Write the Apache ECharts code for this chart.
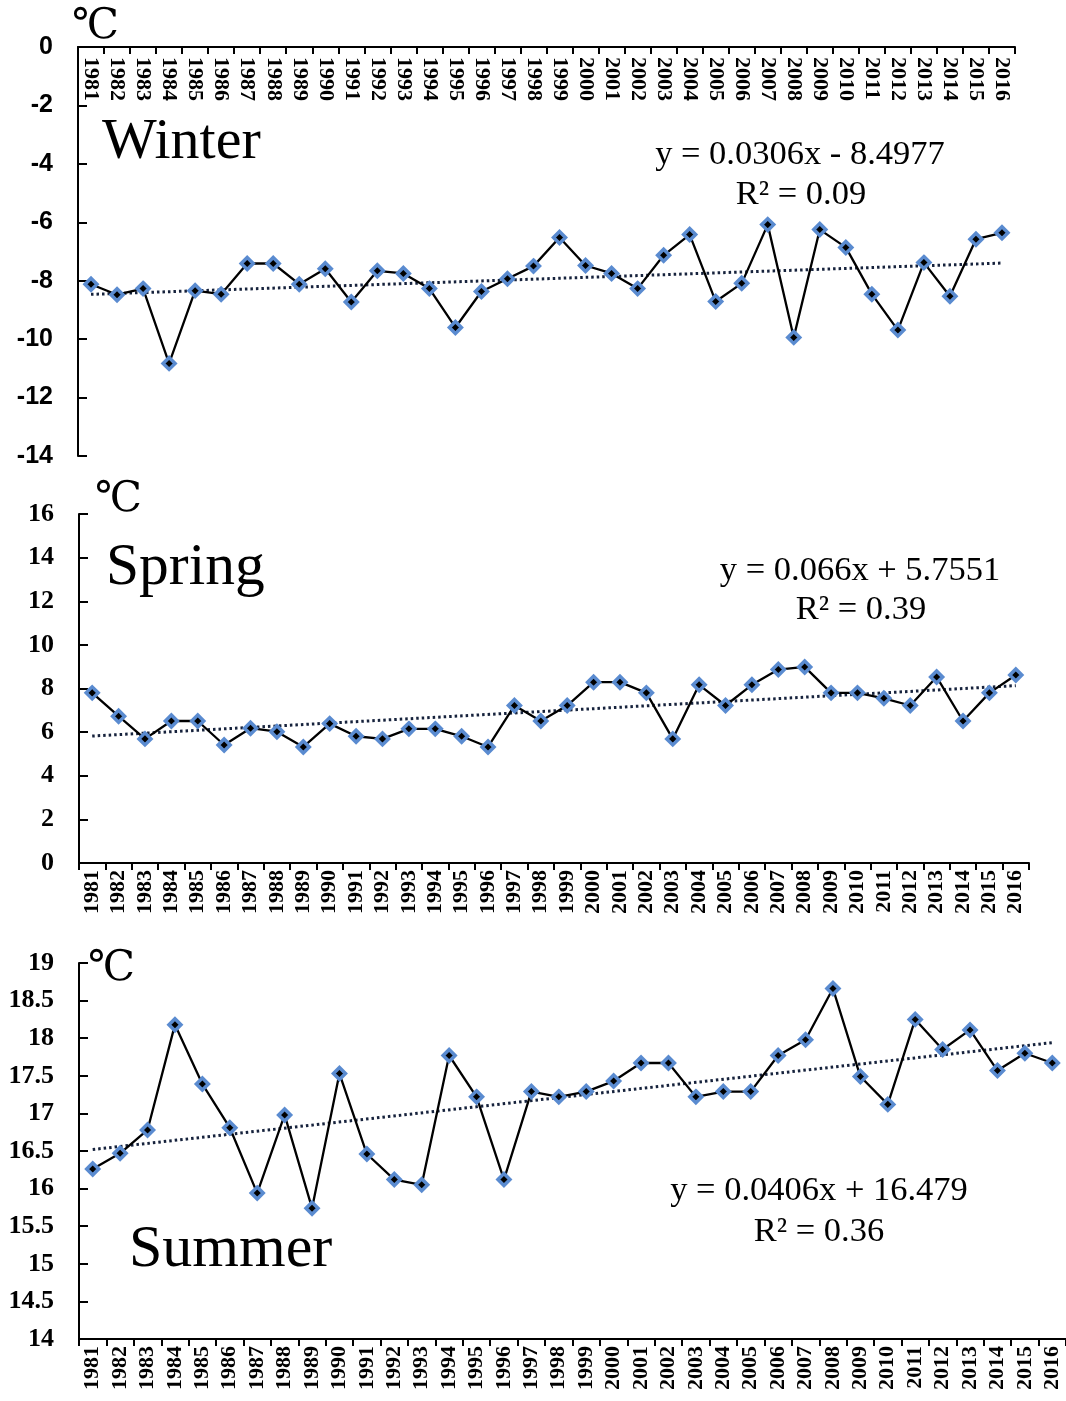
<!DOCTYPE html>
<html><head><meta charset="utf-8">
<script src="https://cdn.jsdelivr.net/npm/echarts@6/dist/echarts.min.js"></script>
<style>html,body{margin:0;padding:0;background:#fff}#c{width:1066px;height:1401px}</style>
</head><body><div id="c"></div><script>
const years = ['1981','1982','1983','1984','1985','1986','1987','1988','1989','1990','1991','1992','1993','1994','1995','1996','1997','1998','1999','2000','2001','2002','2003','2004','2005','2006','2007','2008','2009','2010','2011','2012','2013','2014','2015','2016'];

const winter = [-8.12,-8.48,-8.27,-10.83,-8.34,-8.46,-7.41,-7.41,-8.12,-7.59,-8.73,-7.66,-7.75,-8.27,-9.60,-8.37,-7.93,-7.50,-6.52,-7.48,-7.75,-8.27,-7.13,-6.42,-8.71,-8.09,-6.08,-9.94,-6.25,-6.86,-8.46,-9.69,-7.38,-8.53,-6.58,-6.36];
const spring = [7.80,6.73,5.69,6.51,6.51,5.41,6.18,6.02,5.32,6.39,5.81,5.69,6.15,6.15,5.81,5.32,7.22,6.51,7.22,8.29,8.29,7.80,5.69,8.17,7.22,8.17,8.87,8.99,7.80,7.80,7.55,7.22,8.53,6.51,7.80,8.62];
const summer = [16.26,16.47,16.78,18.18,17.39,16.81,15.94,16.98,15.74,17.53,16.46,16.12,16.05,17.77,17.22,16.12,17.29,17.22,17.29,17.43,17.67,17.67,17.22,17.29,17.29,17.77,17.98,18.66,17.49,17.12,18.25,17.85,18.11,17.57,17.80,17.67];

// trend line end values (first and last year)
const winterTrend = [-8.467, -7.396];
const springTrend = [5.821, 8.131];
const summerTrend = [16.520, 17.941];

// y-axis [min, max, interval]
const winterAxis = [-14, 0, 2];
const springAxis = [0, 16, 2];
const summerAxis = [14, 19, 0.5];

const seasonNames = ['Winter', 'Spring', 'Summer'];
const equations = ['y = 0.0306x - 8.4977', 'y = 0.066x + 5.7551', 'y = 0.0406x + 16.479'];
const r2Texts = ['R² = 0.09', 'R² = 0.39', 'R² = 0.36'];
const unitText = '℃';

const serif = 'Liberation Serif';
const axisLineStyle = {color: '#000', width: 2};

function xAxisCfg(gridIndex, position, labelsInside, ticksInside) {
  return {
    type: 'category', gridIndex: gridIndex, data: years, position: position,
    boundaryGap: true,
    axisLine: {show: true, onZero: false, lineStyle: axisLineStyle},
    axisTick: {show: true, inside: ticksInside, length: 7, alignWithLabel: false, interval: 0, lineStyle: {color: '#000', width: 2}},
    axisLabel: {show: true, inside: labelsInside, rotate: 90, interval: 0, margin: labelsInside ? 10 : 7,
      fontFamily: serif, fontWeight: 'bold', fontSize: 22, color: '#000'},
    splitLine: {show: false}
  };
}
function yAxisCfg(gridIndex, range, fontFamily, fontSize) {
  return {
    type: 'value', gridIndex: gridIndex, min: range[0], max: range[1], interval: range[2],
    axisLine: {show: true, onZero: false, lineStyle: axisLineStyle},
    axisTick: {show: true, inside: true, length: 9, lineStyle: {color: '#000', width: 2}},
    axisLabel: {margin: 25, fontFamily: fontFamily, fontWeight: 'bold', fontSize: fontSize, color: '#000'},
    splitLine: {show: false}
  };
}
function dataSeries(idx, values) {
  return {
    type: 'line', xAxisIndex: idx, yAxisIndex: idx, data: values, z: 5,
    symbol: 'diamond', symbolSize: 12,
    lineStyle: {color: '#000', width: 2.3},
    itemStyle: {color: '#000', borderColor: '#5a8bd0', borderWidth: 3.5},
    emphasis: {disabled: true}
  };
}
function trendSeries(idx, ends) {
  return {
    type: 'line', xAxisIndex: idx, yAxisIndex: idx, z: 3,
    data: [[years[0], ends[0]], [years[years.length - 1], ends[1]]],
    symbol: 'none',
    lineStyle: {color: '#16223c', width: 3, type: [2.5, 3]},
    emphasis: {disabled: true}
  };
}
function txt(x, y, text, size, weight, family, align) {
  return {type: 'text', x: x, y: y, z: 10,
    style: {text: text, fontSize: size, fontWeight: weight || 'normal', fontFamily: family || serif,
      fill: '#000', align: align || 'left', verticalAlign: 'middle'}};
}

const chart = echarts.init(document.getElementById('c'), null, {renderer: 'canvas'});
chart.setOption({
  animation: false,
  backgroundColor: '#fff',
  grid: [
    {left: 78, top: 47, right: 51, height: 409},
    {left: 79, top: 514, right: 37, height: 349},
    {left: 79, top: 963, right: -4, height: 376}
  ],
  xAxis: [
    xAxisCfg(0, 'top', true, true),
    xAxisCfg(1, 'bottom', false, false),
    xAxisCfg(2, 'bottom', false, false)
  ],
  yAxis: [
    yAxisCfg(0, winterAxis, 'Liberation Sans', 25),
    yAxisCfg(1, springAxis, serif, 26),
    yAxisCfg(2, summerAxis, serif, 26)
  ],
  series: [
    trendSeries(0, winterTrend), dataSeries(0, winter),
    trendSeries(1, springTrend), dataSeries(1, spring),
    trendSeries(2, summerTrend), dataSeries(2, summer)
  ],
  graphic: [
    txt(72, 27, unitText, 42, 'normal', 'DejaVu Serif, Noto Sans CJK SC'),
    txt(95, 500, unitText, 42, 'normal', 'DejaVu Serif, Noto Sans CJK SC'),
    txt(88, 969, unitText, 42, 'normal', 'DejaVu Serif, Noto Sans CJK SC'),
    txt(102, 143, seasonNames[0], 58),
    txt(106, 568, seasonNames[1], 59.5),
    txt(129, 1250, seasonNames[2], 60),
    txt(800, 155, equations[0], 34.5, 'normal', serif, 'center'),
    txt(801, 195, r2Texts[0], 34.5, 'normal', serif, 'center'),
    txt(860, 571, equations[1], 34.5, 'normal', serif, 'center'),
    txt(861, 610, r2Texts[1], 34.5, 'normal', serif, 'center'),
    txt(819, 1191, equations[2], 34.5, 'normal', serif, 'center'),
    txt(819, 1232, r2Texts[2], 34.5, 'normal', serif, 'center')
  ]
});
</script></body></html>
